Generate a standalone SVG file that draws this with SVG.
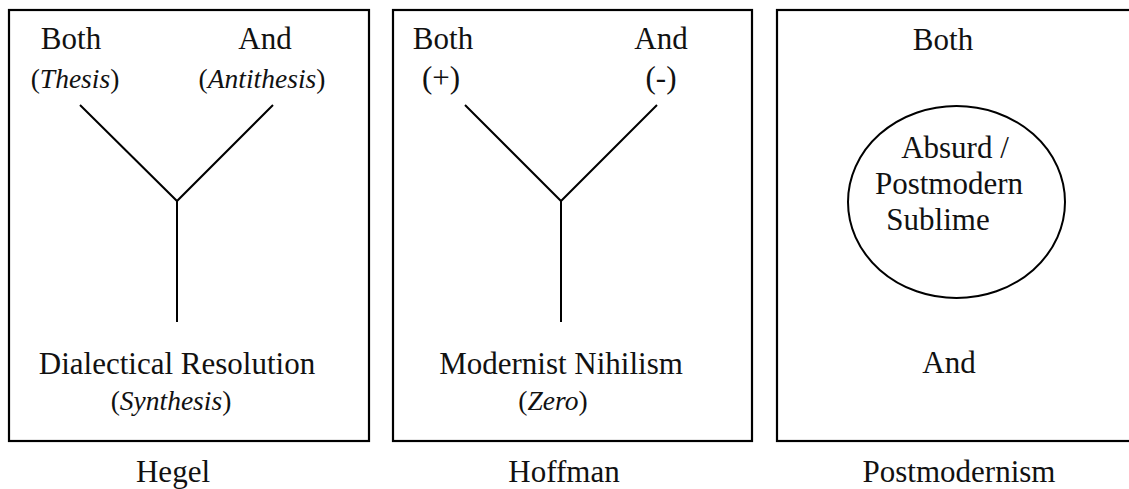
<svg xmlns="http://www.w3.org/2000/svg" width="1129" height="489" viewBox="0 0 1129 489">
<style>
.box{fill:none;stroke:#000;stroke-width:2.2}
.ln{fill:none;stroke:#000;stroke-width:2}
text{font-family:"Liberation Serif","Times New Roman",serif;font-size:31px;fill:#111;text-anchor:middle}
.s{font-size:27.5px}
.i{font-style:italic}
</style>
<rect width="1129" height="489" fill="#fff"/>
<g id="hegel">
<rect class="box" x="9" y="10" width="360" height="431"/>
<text x="71" y="49">Both</text>
<text class="s" x="75" y="88">(<tspan class="i">Thesis</tspan>)</text>
<text x="265" y="49">And</text>
<text class="s" x="262" y="88">(<tspan class="i">Antithesis</tspan>)</text>
<text x="177" y="374">Dialectical Resolution</text>
<text class="s" x="171" y="410">(<tspan class="i">Synthesis</tspan>)</text>
</g>
<g id="hoffman">
<rect class="box" x="393" y="10" width="359" height="431"/>
<text x="443" y="49">Both</text>
<text x="441" y="88">(+)</text>
<text x="661" y="49">And</text>
<text x="661" y="88">(-)</text>
<text x="561" y="374">Modernist Nihilism</text>
<text class="s" x="553" y="410">(<tspan class="i">Zero</tspan>)</text>
</g>
<g id="postmodernism">
<rect class="box" x="777" y="10" width="360" height="431"/>
<text x="943" y="50">Both</text>
<ellipse class="ln" cx="956.5" cy="202" rx="108.5" ry="96"/>
<text x="955" y="158">Absurd /</text>
<text x="949" y="194">Postmodern</text>
<text x="938" y="230">Sublime</text>
<text x="949" y="373">And</text>
</g>
<g id="captions">
<text x="173" y="482">Hegel</text>
<text x="564" y="482">Hoffman</text>
<text x="959" y="482">Postmodernism</text>
</g>
<g id="connectors">
<polyline class="ln" points="80,105 177,201 273,105"/>
<line class="ln" x1="177" y1="201" x2="177" y2="322"/>
<polyline class="ln" points="465,105 561,201 657,105"/>
<line class="ln" x1="561" y1="201" x2="561" y2="322"/>
</g>
</svg>
